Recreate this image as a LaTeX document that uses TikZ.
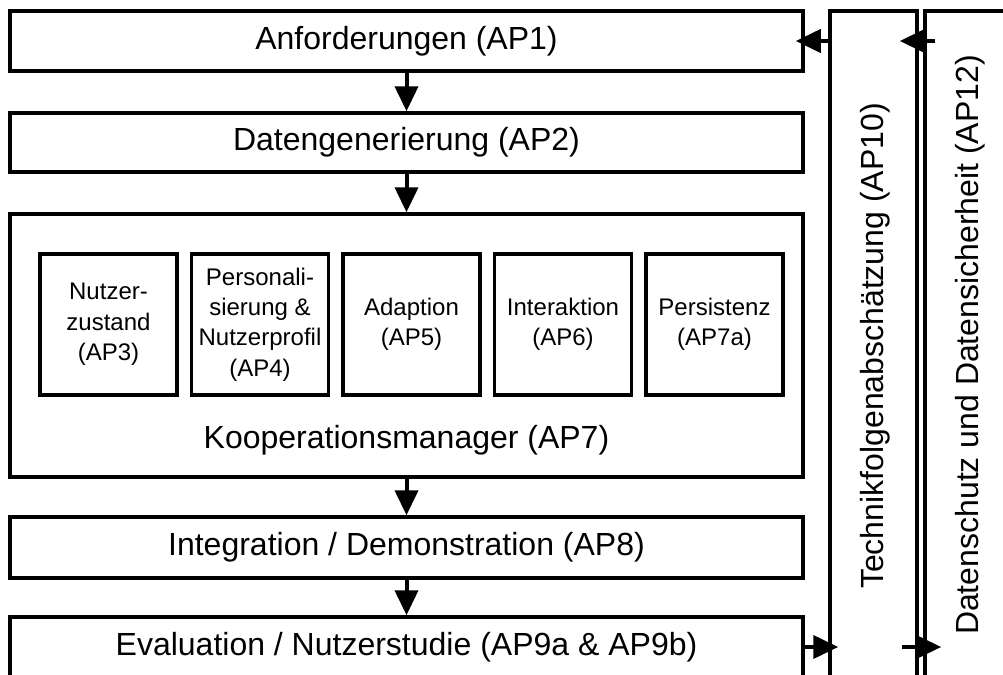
\documentclass[tikz,border=0pt]{standalone}
\usepackage{fontspec}
\setmainfont{Liberation Sans}
\usetikzlibrary{arrows.meta,calc}
\begin{document}
\begin{tikzpicture}[x=0.5pt,y=-0.5pt,
  box/.style={draw,line width=1.75pt,inner sep=0pt,minimum width=396.5pt,font=\fontsize{16}{19}\selectfont},
  sidebox/.style={draw,line width=1.75pt,inner sep=0pt},
  sub/.style={draw,line width=1.75pt,inner sep=0pt,minimum width=68.5pt,minimum height=70.5pt,align=center,font=\fontsize{12}{15.2}\selectfont},
  lbl/.style={inner sep=0pt,font=\fontsize{16}{19}\selectfont},
  arr/.style={line width=2pt,-{Triangle[width=11.5pt,length=12.5pt]}}]
\useasboundingbox (0,0) rectangle (1003,675);
\clip (0,0) rectangle (1003,675);
% main column
\node[box,minimum height=30pt] (ap1) at (406.5,41) {Anforderungen (AP1)};
\node[box,minimum height=29.5pt] (ap2) at (406.5,142.5) {Datengenerierung (AP2)};
\node[box,minimum height=131.5pt] (ap7) at (406.5,345.5) {};
\node[lbl] (ap7l) at (406.5,440) {Kooperationsmanager (AP7)};
\node[box,minimum height=30.5pt] (ap8) at (406.5,547.5) {Integration / Demonstration (AP8)};
\node[box,minimum height=30pt] (ap9) at (406.5,647) {Evaluation / Nutzerstudie (AP9a \& AP9b)};
% sub boxes
\node[sub] (ap3) at (108.5,324.5) {Nutzer-\\zustand\\(AP3)};
\node[sub] (ap4) at (260,324.5) {Personali-\\sierung \&\\Nutzerprofil\\(AP4)};
\node[sub] (ap5) at (411.5,324.5) {Adaption\\(AP5)};
\node[sub] (ap6) at (563,324.5) {Interaktion\\(AP6)};
\node[sub] (ap7a) at (714.5,324.5) {Persistenz\\(AP7a)};
% side boxes
\node[sidebox,minimum width=43.5pt,minimum height=333pt] (ap10) at (873.5,344) {};
\node[lbl,rotate=90] (ap10l) at (875,346) {Technikfolgenabschätzung (AP10)};
\node[sidebox,minimum width=42.5pt,minimum height=333pt] (ap12) at (967.5,344) {};
\node[lbl,rotate=90] (ap12l) at (970,345) {Datenschutz und Datensicherheit (AP12)};
% vertical arrows
\draw[arr] (ap1.south) -- (ap2.north);
\draw[arr] (ap2.south) -- (ap7.north);
\draw[arr] (ap7.south) -- (ap8.north);
\draw[arr] (ap8.south) -- (ap9.north);
% side arrows
\coordinate (t1) at ($(ap1.east)+(-9,0)$);
\draw[arr] (ap10.west |- ap1.east) -- (t1);
\coordinate (t2s) at ($(ap12.west |- ap1.east)+(12,0)$);
\coordinate (t2e) at ($(ap10.east |- ap1.east)+(-19,0)$);
\draw[arr] (t2s) -- (t2e);
\coordinate (b1) at ($(ap10.west |- ap9.east)+(10,0)$);
\draw[arr] (ap9.east) -- (b1);
\coordinate (b2s) at ($(ap10.east |- ap9.east)+(-17,0)$);
\coordinate (b2e) at ($(ap12.west |- ap9.east)+(18,0)$);
\draw[arr] (b2s) -- (b2e);
\end{tikzpicture}
\end{document}
